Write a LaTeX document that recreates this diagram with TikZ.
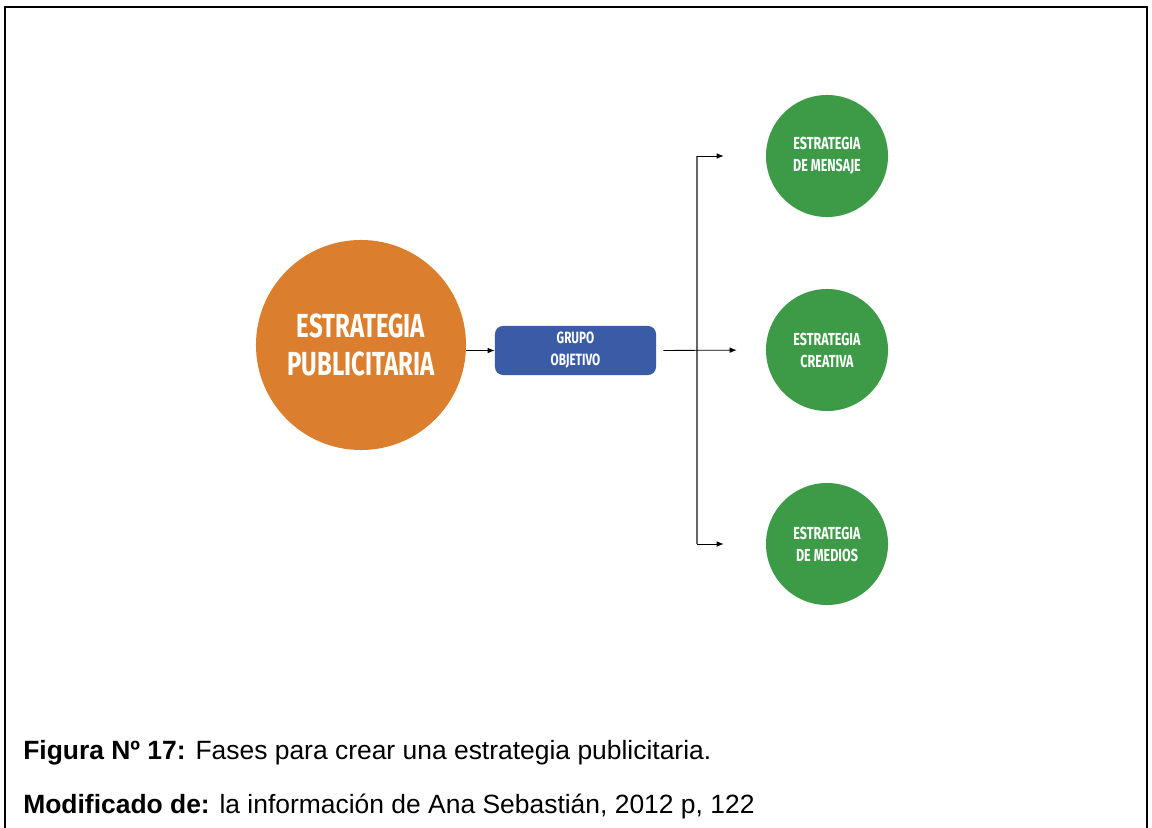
\documentclass[tikz,border=0pt]{standalone}
\usepackage{fontspec}
\setmainfont{Liberation Sans}
\newfontfamily\narrowfont[FakeStretch=0.72]{Fira Sans}
\usetikzlibrary{arrows.meta}
\definecolor{naranja}{HTML}{DB7F2E}
\definecolor{verde}{HTML}{3D9B48}
\definecolor{azul}{HTML}{3A5BA6}
\tikzset{
  fase/.style={circle,fill=verde,text=white,inner sep=0pt,minimum size=3.05cm,
    align=center,font=\narrowfont\bfseries\fontsize{12.4}{15.6}\selectfont},
  flecha/.style={-{Latex[length=5pt,width=4pt]},line width=0.6pt,black},
  pie/.style={anchor=base west,inner sep=0pt,font=\fontsize{18.8}{22}\selectfont},
}
\begin{document}
\begin{tikzpicture}[x=0.025cm,y=-0.025cm]
                                    \def\xbus{697};\def\ytop{156};\def\ymid{350};\def\ybot{544};
                                    \useasboundingbox (0,0) rectangle (1152,828);
% frame
                                    \draw[line width=1.6pt] (5,828) -- (5,7) -- (1147,7) -- (1147,828);

% nodes
                                    \node[circle,fill=naranja,text=white,inner sep=0pt,minimum size=5.25cm,align=center,
                                      font=\narrowfont\bfseries\fontsize{23.7}{26.5}\selectfont] (estrategia) at (361,345) {ESTRATEGIA\\PUBLICITARIA};
                                    \node[rounded corners=0.2cm,fill=azul,text=white,minimum width=4.025cm,minimum height=1.225cm,align=center,
                                      font=\narrowfont\bfseries\fontsize{11.6}{15.6}\selectfont] (grupo) at (575.5,350.5) {GRUPO\\OBJETIVO};
                                    \node[fase] (mensaje) at (827,\ytop) {ESTRATEGIA\\DE MENSAJE};
                                    \node[fase] (creativa) at (827,\ymid) {ESTRATEGIA\\CREATIVA};
                                    \node[fase] (medios) at (827,\ybot) {ESTRATEGIA\\DE MEDIOS};
                                    \coordinate (bustop) at (\xbus,\ytop);
                                    \coordinate (busbot) at (\xbus,\ybot);

% connectors
                                    \draw[flecha] (estrategia.east |- grupo.west) -- (grupo.west);
                                    \draw[black!60,line width=1pt] (bustop) -- (busbot);
                                    \draw[flecha,shorten <=0.175cm,shorten >=0.725cm] (grupo.east) -- (creativa.west);
                                    \draw[flecha,shorten >=1.05cm] (bustop) -- (mensaje.west);
                                    \draw[flecha,shorten >=1.05cm] (busbot) -- (medios.west);

% caption
                                    \node[pie] (figura) at (23,759) {\textbf{Figura Nº 17:} Fases para crear una estrategia publicitaria.};
                                    \node[pie] (fuente) at (23,813) {\textbf{Modificado de:} la información de Ana Sebastián, 2012 p, 122};
                                \end{tikzpicture}
\end{document}
